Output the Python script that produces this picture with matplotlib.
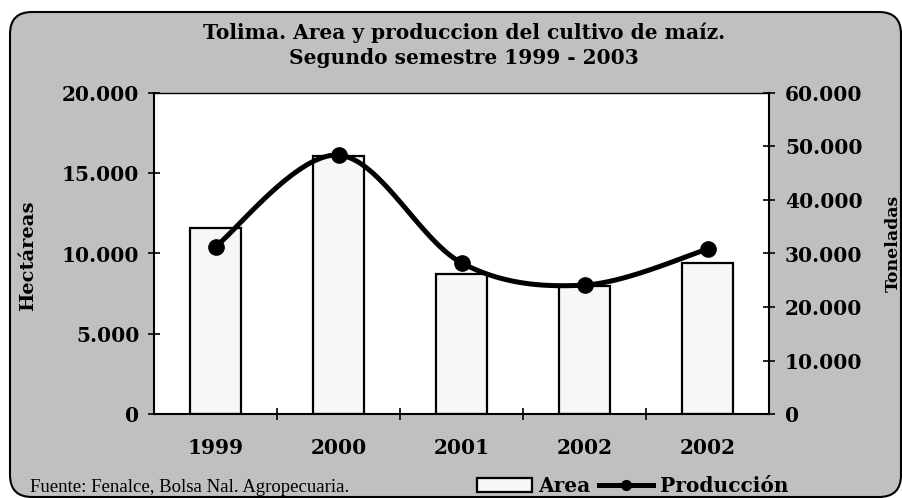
import matplotlib.pyplot as plt
import numpy as np
from matplotlib.patches import FancyBboxPatch, Patch
from matplotlib.lines import Line2D
from matplotlib.ticker import FuncFormatter

years = ["1999", "2000", "2001", "2002", "2002"]
area_ha = [11600, 16050, 8700, 8000, 9400]
produccion_t = [31300, 48400, 28250, 24100, 30800]

title = "Tolima. Area y produccion del cultivo de maíz.\nSegundo semestre 1999 - 2003"
source = "Fuente: Fenalce, Bolsa Nal. Agropecuaria."

plt.rcParams["font.family"] = ["DejaVu Serif"]
plt.rcParams["font.weight"] = "bold"

W, H = 902, 498
fig = plt.figure(figsize=(W / 100, H / 100), dpi=100)
fig.patch.set_facecolor("white")

# grey rounded background, in pixel coordinates
bg = fig.add_axes([0, 0, 1, 1], zorder=0)
bg.set_xlim(0, W)
bg.set_ylim(H, 0)
bg.axis("off")
bg.add_patch(FancyBboxPatch((10, 12), 891, 485, boxstyle="round,pad=0,rounding_size=22",
                            facecolor="#c0c0c0", edgecolor="black", linewidth=1.5))


def smooth(xs, ys, n=30):
    """Excel-like smoothed line (Bezier with Catmull-Rom control points)"""
    pts = np.column_stack([xs, ys]).astype(float)
    out = [pts[0]]
    for i in range(len(pts) - 1):
        p0 = pts[max(i - 1, 0)]
        p1, p2 = pts[i], pts[i + 1]
        p3 = pts[min(i + 2, len(pts) - 1)]
        c1 = p1 + (p2 - p0) / 6
        c2 = p2 - (p3 - p1) / 6
        t = np.linspace(0, 1, n)[1:, None]
        seg = (1 - t) ** 3 * p1 + 3 * (1 - t) ** 2 * t * c1 + 3 * (1 - t) * t ** 2 * c2 + t ** 3 * p2
        out.extend(seg)
    out = np.array(out)
    return out[:, 0], out[:, 1]


ax = fig.add_axes([154 / W, 1 - 414 / H, 615 / W, 321 / H], zorder=1)
ax.set_facecolor("white")
x = np.arange(len(years))
bars = ax.bar(x, area_ha, width=0.41, color="#f7f7f7", edgecolor="black", linewidth=1.6, zorder=2)
ax.set_xlim(-0.5, len(years) - 0.5)
ax.set_ylim(0, 20000)
ax.set_yticks(np.arange(0, 20001, 5000))

fmt = FuncFormatter(lambda v, p: f"{int(v):,}".replace(",", "."))
ax.yaxis.set_major_formatter(fmt)

ax.set_xticks(x[:-1] + 0.5)
ax.set_xticklabels([])
ax.set_xticks(x, minor=True)
ax.set_xticklabels(years, minor=True)
ax.tick_params(axis="x", which="major", direction="inout", length=9, width=1.2)
ax.tick_params(axis="x", which="minor", length=0, pad=17, labelsize=14.5)
ax.tick_params(axis="y", direction="inout", length=9, width=1.2, pad=6, labelsize=14.5)

for s in ["left", "bottom"]:
    ax.spines[s].set_linewidth(1.5)
ax.spines["top"].set_linewidth(1.0)
ax.spines["right"].set_visible(False)

ax2 = ax.twinx()
ax2.set_ylim(0, 60000)
ax2.set_yticks(np.arange(0, 60001, 10000))
ax2.yaxis.set_major_formatter(fmt)
ax2.tick_params(axis="y", direction="inout", length=9, width=1.2, pad=7, labelsize=14.5)
ax2.spines["right"].set_linewidth(1.5)
for s in ["left", "top", "bottom"]:
    ax2.spines[s].set_visible(False)

sx, sy = smooth(x, produccion_t)
ax2.plot(sx, sy, color="black", linewidth=3.6, solid_capstyle="round", zorder=3)
ax2.plot(x, produccion_t, "o", color="black", markersize=11, zorder=4)

fig.text(28 / W, 1 - 256 / H, "Hectáreas", rotation=90, ha="center", va="center", fontsize=14)
fig.text(893 / W, 1 - 243 / H, "Toneladas", rotation=90, ha="center", va="center", fontsize=12.5)
fig.text(464 / W, 1 - 45 / H, title, ha="center", va="center", fontsize=14.5, linespacing=1.3)
fig.text(30 / W, 1 - 487 / H, source, ha="left", va="center", fontsize=13.5,
         fontweight="normal", family="Liberation Serif")

handles = [Patch(facecolor="#f7f7f7", edgecolor="black", linewidth=1.6, label="Area"),
           Line2D([], [], color="black", linewidth=3.6, marker="o", markersize=7, label="Producción")]
fig.legend(handles=handles, loc="center", bbox_to_anchor=(633 / W, 1 - 486 / H), ncol=2,
           frameon=False, fontsize=14.5, handlelength=2.7, handleheight=0.7,
           handletextpad=0.35, columnspacing=0.4)

fig.savefig("out.png", dpi=100)
